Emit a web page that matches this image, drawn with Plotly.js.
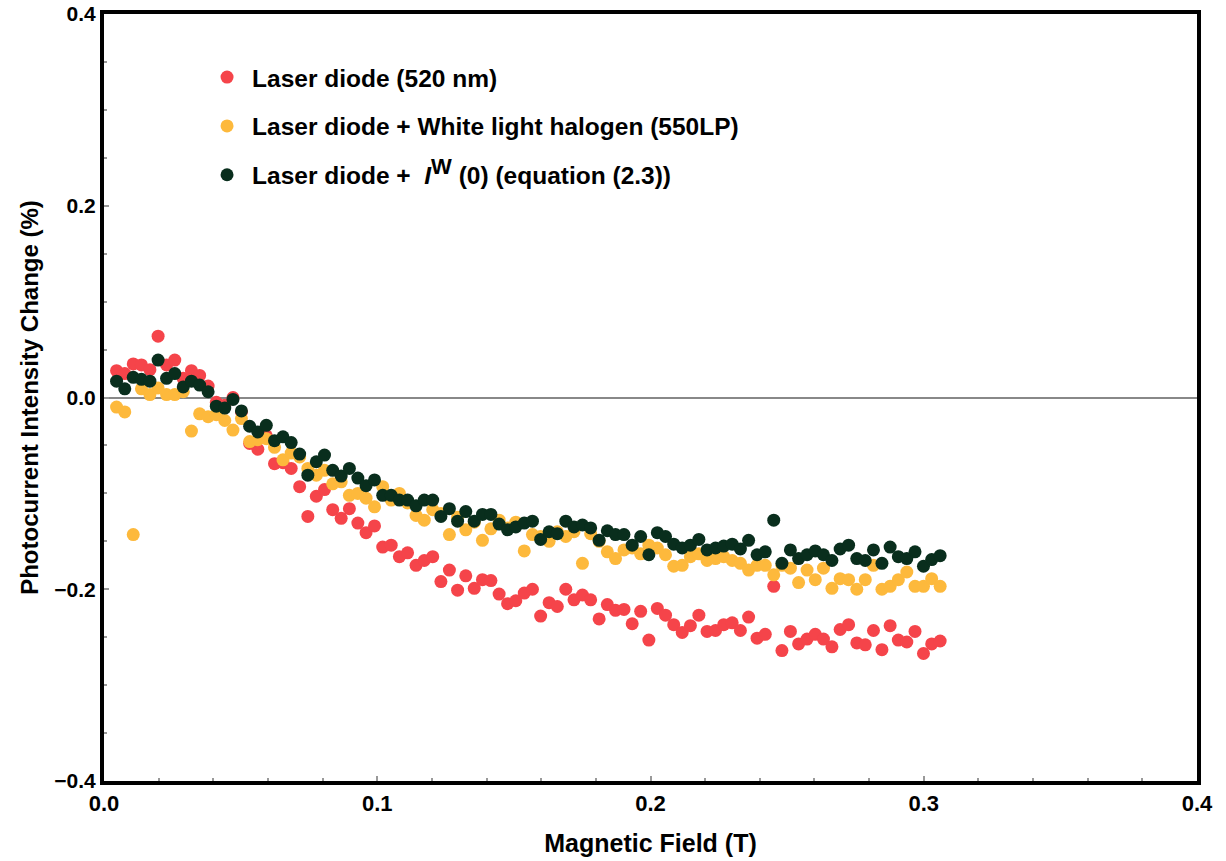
<!DOCTYPE html>
<html>
<head>
<meta charset="utf-8">
<script src="https://cdn.plot.ly/plotly-3.0.1.min.js"></script>
<style>html,body{margin:0;padding:0;background:#fff;}#chart{width:1226px;height:861px;}</style>
</head>
<body>
<div id="chart"></div>
<script>
var field = [0.0046,0.0076,0.0107,0.0137,0.0168,0.0198,0.0229,0.0259,0.0290,0.0320,
0.0350,0.0381,0.0411,0.0442,0.0472,0.0503,0.0533,0.0563,0.0594,0.0624,
0.0655,0.0685,0.0716,0.0746,0.0777,0.0807,0.0837,0.0868,0.0898,0.0929,
0.0959,0.0990,0.1020,0.1051,0.1081,0.1111,0.1142,0.1172,0.1203,0.1233,
0.1264,0.1294,0.1324,0.1355,0.1385,0.1416,0.1446,0.1477,0.1507,0.1538,
0.1568,0.1598,0.1629,0.1659,0.1690,0.1720,0.1751,0.1781,0.1812,0.1842,
0.1872,0.1903,0.1933,0.1964,0.1994,0.2025,0.2055,0.2085,0.2116,0.2146,
0.2177,0.2207,0.2238,0.2268,0.2299,0.2329,0.2359,0.2390,0.2420,0.2451,
0.2481,0.2512,0.2542,0.2573,0.2603,0.2633,0.2664,0.2694,0.2725,0.2755,
0.2786,0.2816,0.2847,0.2877,0.2907,0.2938,0.2968,0.2999,0.3029,0.3060];

var laserOnly = [0.028,0.025,0.035,0.034,0.029,0.064,0.034,0.039,0.020,0.028,
0.023,0.012,-0.005,-0.008,0.000,-0.015,-0.048,-0.054,-0.040,-0.069,
-0.068,-0.074,-0.093,-0.124,-0.103,-0.096,-0.117,-0.126,-0.116,-0.131,
-0.141,-0.134,-0.156,-0.154,-0.166,-0.162,-0.175,-0.170,-0.166,-0.192,
-0.180,-0.201,-0.186,-0.199,-0.190,-0.191,-0.205,-0.215,-0.212,-0.204,
-0.200,-0.228,-0.214,-0.218,-0.200,-0.211,-0.206,-0.211,-0.231,-0.216,
-0.222,-0.221,-0.236,-0.223,-0.253,-0.220,-0.227,-0.237,-0.245,-0.238,
-0.227,-0.244,-0.243,-0.237,-0.235,-0.243,-0.229,-0.251,-0.247,-0.197,
-0.264,-0.244,-0.257,-0.252,-0.247,-0.252,-0.260,-0.242,-0.237,-0.256,
-0.258,-0.243,-0.263,-0.238,-0.253,-0.255,-0.244,-0.267,-0.257,-0.254];

var laserHalogen = [-0.010,-0.015,-0.143,0.009,0.003,0.010,0.003,0.003,0.006,-0.035,
-0.017,-0.020,-0.018,-0.024,-0.034,-0.022,-0.046,-0.044,-0.043,-0.052,
-0.065,-0.058,-0.062,-0.074,-0.081,-0.076,-0.090,-0.088,-0.102,-0.100,
-0.105,-0.114,-0.093,-0.107,-0.100,-0.110,-0.123,-0.128,-0.117,-0.121,
-0.143,-0.125,-0.138,-0.130,-0.149,-0.137,-0.128,-0.136,-0.130,-0.160,
-0.143,-0.145,-0.150,-0.140,-0.145,-0.140,-0.173,-0.142,-0.150,-0.161,
-0.168,-0.159,-0.157,-0.163,-0.154,-0.157,-0.164,-0.176,-0.175,-0.166,
-0.163,-0.170,-0.168,-0.166,-0.170,-0.173,-0.180,-0.175,-0.175,-0.185,
-0.175,-0.178,-0.193,-0.180,-0.190,-0.178,-0.199,-0.189,-0.190,-0.200,
-0.190,-0.175,-0.200,-0.197,-0.190,-0.182,-0.197,-0.197,-0.189,-0.197];

var laserIW = [0.017,0.009,0.021,0.019,0.017,0.039,0.020,0.025,0.011,0.017,
0.013,0.006,-0.009,-0.011,-0.002,-0.014,-0.030,-0.036,-0.029,-0.045,
-0.041,-0.047,-0.059,-0.081,-0.067,-0.060,-0.076,-0.082,-0.074,-0.084,
-0.092,-0.086,-0.102,-0.102,-0.107,-0.107,-0.113,-0.107,-0.107,-0.124,
-0.116,-0.129,-0.119,-0.129,-0.122,-0.122,-0.132,-0.138,-0.135,-0.131,
-0.129,-0.148,-0.140,-0.142,-0.129,-0.135,-0.133,-0.136,-0.149,-0.139,
-0.143,-0.143,-0.154,-0.145,-0.164,-0.141,-0.145,-0.153,-0.157,-0.154,
-0.148,-0.159,-0.157,-0.155,-0.153,-0.158,-0.149,-0.164,-0.161,-0.128,
-0.173,-0.159,-0.168,-0.164,-0.160,-0.164,-0.170,-0.158,-0.154,-0.168,
-0.170,-0.159,-0.173,-0.156,-0.166,-0.168,-0.161,-0.176,-0.169,-0.165];

var seriesNames = ["Laser diode (520 nm)",
  "Laser diode + White light halogen (550LP)",
  "Laser diode + <i> I</i><sup><span style='font-size:22px'>W</span></sup> (0) (equation (2.3))"];
var seriesColors = ["rgb(245,68,74)", "rgb(253,185,60)", "rgb(9,46,29)"];
var seriesValues = [laserOnly, laserHalogen, laserIW];

var traces = seriesValues.map(function(v, k){
  return {x: field, y: v, type: 'scatter', mode: 'markers', name: seriesNames[k],
    legendgroup: 'g' + k,
    marker: {color: seriesColors[k], size: 13, line: {width: 0}}};
});

var baseFamily = 'Liberation Sans, Arial, sans-serif';

var layout = {
  width: 1226, height: 861,
  margin: {l: 104, r: 29, t: 14, b: 80},
  paper_bgcolor: '#fff', plot_bgcolor: '#fff',
  showlegend: true,
  legend: {x: 0.0897, y: 0.947, xanchor: 'left', yanchor: 'top', bgcolor: 'rgba(0,0,0,0)',
    font: {family: baseFamily, size: 24.5, color: '#000', weight: 'bold'},
    traceorder: 'grouped', tracegroupgap: 14, itemwidth: 40},
  xaxis: {range: [0, 0.4], dtick: 0.1, tick0: 0, tickformat: '.1f',
    showgrid: false, zeroline: false,
    showline: true, linecolor: '#000', linewidth: 4, mirror: true,
    ticks: 'inside', ticklen: 5, tickwidth: 2, tickcolor: '#999',
    minor: {dtick: 0.02, ticks: 'inside', ticklen: 3, tickwidth: 2, tickcolor: '#999'},
    tickfont: {family: baseFamily, size: 22, color: '#000', weight: 'bold'},
    title: {text: '<b>Magnetic Field (T)</b>', font: {family: baseFamily, size: 25, color: '#000'}, standoff: 20}},
  yaxis: {range: [-0.4, 0.4], dtick: 0.2, tick0: 0, tickformat: '.1f',
    showgrid: false, zeroline: true, zerolinecolor: '#888', zerolinewidth: 2,
    showline: true, linecolor: '#000', linewidth: 4, mirror: true,
    ticks: 'inside', ticklen: 5, tickwidth: 2, tickcolor: '#999',
    minor: {dtick: 0.05, ticks: 'inside', ticklen: 3, tickwidth: 2, tickcolor: '#999'},
    tickfont: {family: baseFamily, size: 21, color: '#000', weight: 'bold'},
    title: {text: '<b>Photocurrent Intensity Change (%)</b>', font: {family: baseFamily, size: 24, color: '#000'}, standoff: 10}}
};

Plotly.newPlot('chart', traces, layout, {displayModeBar: false, staticPlot: true});
</script>
</body>
</html>
